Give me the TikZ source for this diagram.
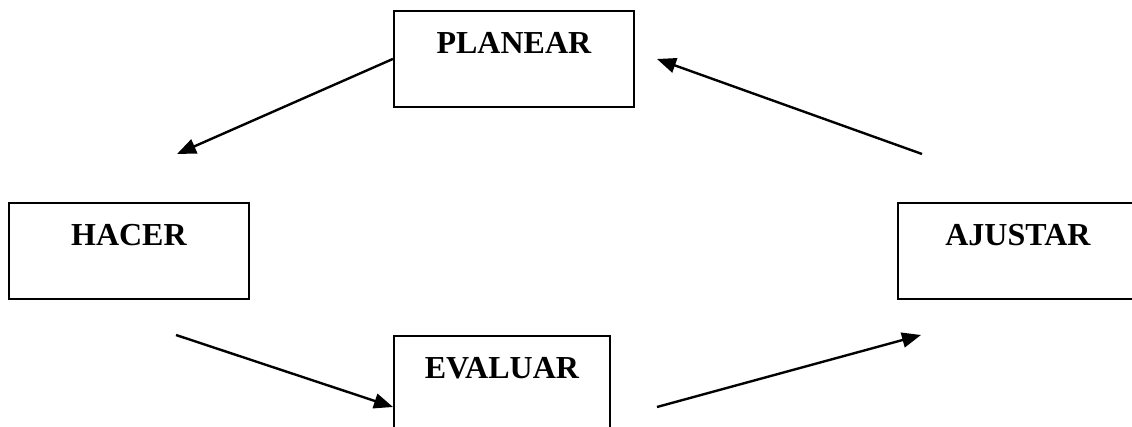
\documentclass[tikz,border=0pt]{standalone}
\usepackage{fontspec}
\setmainfont{Liberation Serif}
\usetikzlibrary{arrows.meta,positioning}

\begin{document}
\begin{tikzpicture}[x=1pt,y=-1pt,
    box/.style={draw, line width=1.8pt, minimum width=240pt, inner sep=0pt,
      text height=43pt, text depth=53pt, font=\fontsize{32}{36}\selectfont\bfseries},
    flow/.style={-{Triangle[length=19pt,width=15pt]}, line width=2.4pt}]
          \useasboundingbox (0,0) rectangle (1132,427);
          \node[box, anchor=north west] (planear) at (393,10) {PLANEAR};
          \node[box, anchor=north west] (hacer) at (8,202) {HACER};
          \node[box, anchor=north west] (ajustar) at (897,202) {AJUSTAR};
          \node[box, anchor=north west, minimum width=216pt] (evaluar) at (393,335) {EVALUAR};
          % free ends of the arrows
          \coordinate (h1) at (177,154);
          \coordinate (h2) at (176,335);
          \coordinate (e1) at (393,407);
          \coordinate (e2) at (657,407);
          \coordinate (a1) at (921,335);
          \coordinate (a2) at (922,154);
          \coordinate (p1) at (657,59);
          \draw[flow] (planear.west) -- (h1);
          \draw[flow] (h2) -- (e1);
          \draw[flow] (e2) -- (a1);
          \draw[flow] (a2) -- (p1);
        \end{tikzpicture}
\end{document}
